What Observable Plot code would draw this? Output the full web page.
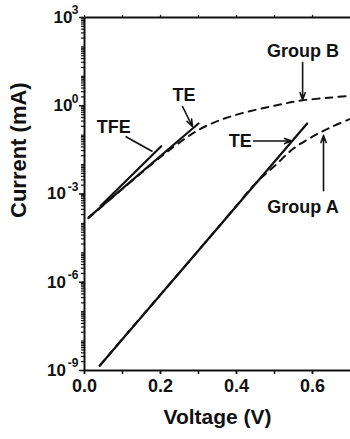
<!DOCTYPE html>
<html><head><meta charset="utf-8">
<script src="https://cdn.jsdelivr.net/npm/d3@7"></script>
<script src="https://cdn.jsdelivr.net/npm/@observablehq/plot@0.6"></script>
<style>body{margin:0;background:#fff}</style>
</head><body><div id="chart"></div>
<script>
// Measured curves (dashed)
const groupAVoltage = [0.04, 0.1, 0.2, 0.3, 0.4, 0.45, 0.5, 0.55, 0.6, 0.65, 0.7];
const groupACurrent = [1.45e-9, 1.2e-8, 3.8e-7, 1.2e-5, 4e-4, 2.3e-3, 8.9e-3, 0.035, 0.089, 0.19, 0.36];
const groupBVoltage = [0.01, 0.1, 0.2, 0.25, 0.3, 0.35, 0.41, 0.5, 0.57, 0.65, 0.7];
const groupBCurrent = [1.5e-4, 1.5e-3, 0.018, 0.056, 0.15, 0.3, 0.54, 1.0, 1.5, 1.9, 2.2];
// Fit lines (solid)
const teAVoltage = [0.04, 0.586];
const teACurrent = [1.45e-9, 0.25];
const teBVoltage = [0.011, 0.30];
const teBCurrent = [1.6e-4, 0.25];
const tfeVoltage = [0.042, 0.202];
const tfeCurrent = [3.9e-4, 0.042];
// Ticks
const xTicks = [0, 0.2, 0.4, 0.6];
const xAllTicks = [0, 0.1, 0.2, 0.3, 0.4, 0.5, 0.6];
const yTicks = [1e-9, 1e-6, 1e-3, 1, 1e3];
const yExponents = ["-9", "-6", "-3", "0", "3"];
// Annotations
const labelText = ["Group B", "Group A", "TE", "TE", "TFE"];
const labelVoltage = [0.575, 0.575, 0.41, 0.262, 0.077];
const labelCurrent = [70, 3.6e-4, 0.063, 2.24, 0.186];
const arrowV1 = [0.574, 0.629, 0.445, 0.258];
const arrowI1 = [29.5, 1.3e-3, 0.063, 0.944];
const arrowV2 = [0.574, 0.629, 0.545, 0.284];
const arrowI2 = [1.6, 0.098, 0.063, 0.197];
const pointerV1 = [0.108], pointerI1 = [0.09], pointerV2 = [0.179], pointerI2 = [0.0279];

const ink = "#111";
const idx = a => a.map((_, i) => i);

const chart = Plot.plot({
  width: 350, height: 439,
  marginLeft: 84, marginTop: 17, marginRight: 0, marginBottom: 69,
  style: {fontFamily: "'Liberation Sans', Arial, sans-serif", fontWeight: "bold", color: ink, background: "white", overflow: "visible"},
  x: {domain: [0, 0.7]},
  y: {type: "log", domain: [1e-9, 1e3]},
  marks: [
    // minor y ticks
    Plot.axisY({ticks: 20, tickSize: 3, tickFormat: () => "", label: null, strokeWidth: 1.2}),
    Plot.axisY({ticks: yTicks, tickSize: 5, tickFormat: () => "", label: null, strokeWidth: 1.5}),
    // y tick labels with superscripts
    Plot.text(idx(yTicks).filter(i => yExponents[i].length === 1), {y: i => yTicks[i], frameAnchor: "left", text: () => "10", textAnchor: "end", dx: -12, fontSize: 17, lineAnchor: "middle"}),
    Plot.text(idx(yTicks).filter(i => yExponents[i].length === 2), {y: i => yTicks[i], frameAnchor: "left", text: () => "10", textAnchor: "end", dx: -18.5, fontSize: 17, lineAnchor: "middle"}),
    Plot.text(idx(yTicks), {y: i => yTicks[i], frameAnchor: "left", text: i => yExponents[i], textAnchor: "end", dx: -6, dy: -7, fontSize: 12, lineAnchor: "middle"}),
    // x axis
    Plot.axisX({ticks: xAllTicks, tickSize: 4, tickFormat: () => "", label: null, strokeWidth: 1.5}),
    Plot.axisX({ticks: xTicks, tickSize: 4, tickPadding: 5, tickFormat: d3.format(".1f"), label: null, fontSize: 18, strokeWidth: 1.5}),
    Plot.axisX({anchor: "top", ticks: xAllTicks, tickSize: 3, tickFormat: () => "", label: null, strokeWidth: 1.2}),
    // frame
    Plot.ruleX([0], {stroke: ink, strokeWidth: 2}),
    Plot.ruleY([1e-9], {stroke: ink, strokeWidth: 2}),
    Plot.ruleY([1e3], {stroke: ink, strokeWidth: 2}),
    // axis titles
    Plot.text(["Voltage (V)"], {frameAnchor: "bottom", dy: 47, fontSize: 21, lineAnchor: "middle", letterSpacing: 1}),
    Plot.text(["Current (mA)"], {frameAnchor: "left", dx: -66, dy: 24, rotate: -90, fontSize: 22, lineAnchor: "middle", letterSpacing: 3}),
    // curves
    Plot.line(idx(groupAVoltage), {x: i => groupAVoltage[i], y: i => groupACurrent[i], stroke: ink, strokeWidth: 2, strokeDasharray: "7,6", curve: "catmull-rom"}),
    Plot.line(idx(groupBVoltage), {x: i => groupBVoltage[i], y: i => groupBCurrent[i], stroke: ink, strokeWidth: 2, strokeDasharray: "7,6", curve: "catmull-rom"}),
    Plot.line(idx(teAVoltage), {x: i => teAVoltage[i], y: i => teACurrent[i], stroke: ink, strokeWidth: 2.2}),
    Plot.line(idx(teBVoltage), {x: i => teBVoltage[i], y: i => teBCurrent[i], stroke: ink, strokeWidth: 2.2}),
    Plot.line(idx(tfeVoltage), {x: i => tfeVoltage[i], y: i => tfeCurrent[i], stroke: ink, strokeWidth: 2.2}),
    // annotations
    Plot.arrow(idx(arrowV1), {x1: i => arrowV1[i], y1: i => arrowI1[i], x2: i => arrowV2[i], y2: i => arrowI2[i], stroke: ink, strokeWidth: 1.6, headLength: 7, headAngle: 40}),
    Plot.link(idx(pointerV1), {x1: i => pointerV1[i], y1: i => pointerI1[i], x2: i => pointerV2[i], y2: i => pointerI2[i], stroke: ink, strokeWidth: 1.8}),
    Plot.text(idx(labelText), {x: i => labelVoltage[i], y: i => labelCurrent[i], text: i => labelText[i], fontSize: 18, lineAnchor: "middle"})
  ]
});
document.getElementById("chart").append(chart);
</script>
</body></html>
